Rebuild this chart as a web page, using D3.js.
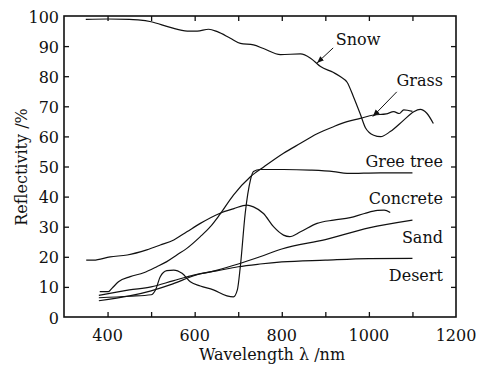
<!DOCTYPE html>
<html>
<head>
<meta charset="utf-8">
<script src="https://cdn.jsdelivr.net/npm/d3@7"></script>
<style>
  body { margin: 0; background: #fff; }
  text { font-family: "DejaVu Serif", serif; fill: #111; }
</style>
</head>
<body>
<div id="chart"></div>
<script>
// valeurs (longueur d'onde en nm, réflectivité en %)
const snowNm = [350, 400, 450, 470, 500, 544, 583, 606, 632, 652, 682, 705, 735, 758, 797, 843, 866, 889, 919, 935, 950, 965, 980, 992, 1011, 1027, 1049, 1080, 1103, 1118, 1133, 1148]
const snowR  = [98.9, 99.0, 98.9, 98.7, 98.1, 96.2, 95.0, 95.0, 95.6, 94.8, 92.6, 90.9, 90.4, 89.2, 87.2, 87.4, 86.0, 83.2, 81.2, 79.8, 78.0, 73.0, 67.5, 62.9, 60.4, 59.9, 61.6, 65.4, 68.2, 69.0, 67.7, 64.3]

const grassNm = [382, 402, 410, 425, 452, 483, 513, 536, 559, 582, 613, 636, 657, 689, 728, 760, 804, 843, 880, 920, 950, 980, 1011, 1040, 1057, 1070, 1080, 1100]
const grassR  = [8.4, 8.4, 9.5, 11.7, 13.4, 14.7, 16.7, 18.4, 20.6, 22.8, 26.7, 30.0, 33.9, 40.5, 46.6, 50.0, 54.4, 57.7, 60.8, 63.3, 64.9, 66.0, 67.1, 67.5, 68.2, 67.6, 68.8, 68.3]

const treeNm = [380, 450, 500, 510, 521, 536, 552, 571, 590, 613, 643, 674, 689, 698, 705, 716, 728, 735, 750, 804, 865, 919, 950, 1026, 1100]
const treeR  = [6.4, 6.9, 7.4, 9.0, 13.4, 15.4, 15.6, 14.5, 11.7, 10.3, 9.0, 7.0, 6.7, 9.0, 17.0, 34.4, 45.5, 48.3, 49.0, 49.0, 48.8, 48.3, 47.7, 47.9, 47.9]

const concreteNm = [351, 368, 406, 445, 490, 521, 552, 582, 613, 657, 690, 720, 735, 758, 781, 804, 818, 843, 881, 919, 957, 990, 1020, 1035, 1049]
const concreteR  = [18.9, 18.9, 20.0, 20.6, 22.3, 23.9, 25.6, 28.3, 31.1, 34.4, 36.0, 37.2, 36.6, 34.4, 30.0, 27.2, 26.7, 28.3, 31.1, 32.2, 33.0, 34.4, 35.4, 35.5, 34.7]

const sandNm = [380, 450, 500, 550, 600, 650, 700, 750, 800, 900, 1000, 1100]
const sandR  = [5.4, 7.0, 8.7, 11.0, 13.8, 15.5, 17.6, 20.0, 22.6, 25.7, 29.6, 32.2]

const desertNm = [380, 450, 500, 550, 600, 650, 700, 750, 800, 900, 1000, 1100]
const desertR  = [7.2, 9.0, 10.0, 12.0, 14.0, 15.3, 16.7, 17.6, 18.3, 18.9, 19.4, 19.5]

const xTicks = [400, 600, 800, 1000, 1200]
const yTicks = [0, 10, 20, 30, 40, 50, 60, 70, 80, 90, 100]

// noms des courbes + position de l'étiquette (nm, %)
const labels = ["Snow", "Grass", "Gree tree", "Concrete", "Sand", "Desert"]
const labelAt = [[924, 90.4], [1170, 76.8], [1170, 49.8], [1170, 37.5], [1170, 24.6], [1170, 12.0]]

const width = 479
const height = 367
const mLeft = 64, mRight = 456, mTop = 16, mBottom = 317

const svg = d3.select("#chart")
  .append("svg")
  .attr("width", width)
  .attr("height", height)

const x = d3.scaleLinear().domain([300, 1200]).range([mLeft, mRight])
const y = d3.scaleLinear().domain([0, 100]).range([mBottom, mTop])

// axes : graduations vers l'intérieur sur les quatre côtés
svg.append("g").attr("transform", "translate(0," + mBottom + ")")
  .call(d3.axisBottom(x).tickValues(d3.range(400, 1200, 100)).tickSize(-5).tickFormat(""))
svg.append("g").attr("transform", "translate(0," + mTop + ")")
  .call(d3.axisTop(x).tickValues(d3.range(400, 1200, 100)).tickSize(-5).tickFormat(""))
svg.append("g").attr("transform", "translate(" + mLeft + ",0)")
  .call(d3.axisLeft(y).tickValues(d3.range(10, 100, 10)).tickSize(-5).tickFormat(""))
svg.append("g").attr("transform", "translate(" + mRight + ",0)")
  .call(d3.axisRight(y).tickValues(d3.range(10, 100, 10)).tickSize(-5).tickFormat(""))

svg.selectAll(".domain").remove()
svg.selectAll(".tick line").attr("stroke", "#111").attr("stroke-width", 1.3)

svg.append("rect")
  .attr("x", mLeft).attr("y", mTop)
  .attr("width", mRight - mLeft).attr("height", mBottom - mTop)
  .attr("fill", "none").attr("stroke", "#111").attr("stroke-width", 1.6)

svg.selectAll("text.xt").data(xTicks).enter()
  .append("text")
  .attr("class", "xt")
  .attr("x", d => x(d))
  .attr("y", mBottom + 24)
  .attr("text-anchor", "middle")
  .attr("font-size", "16px")
  .text(d => d)

svg.selectAll("text.yt").data(yTicks).enter()
  .append("text")
  .attr("class", "yt")
  .attr("x", mLeft - 5)
  .attr("y", d => y(d) + 6.5)
  .attr("text-anchor", "end")
  .attr("font-size", "16px")
  .text(d => d)

svg.append("text")
  .attr("x", 272).attr("y", 360)
  .attr("text-anchor", "middle")
  .attr("font-size", "16px")
  .text("Wavelength λ /nm")

svg.append("text")
  .attr("transform", "translate(27,167) rotate(-90)")
  .attr("text-anchor", "middle")
  .attr("font-size", "16px")
  .text("Reflectivity /%")

// courbes
const series = [
  [snowNm, snowR], [grassNm, grassR], [treeNm, treeR],
  [concreteNm, concreteR], [sandNm, sandR], [desertNm, desertR]
]

const line = d3.line()
  .x(d => x(d[0]))
  .y(d => y(d[1]))
  .curve(d3.curveMonotoneX)

series.forEach(function(s){
  let pts = s[0].map((nm, i) => [nm, s[1][i]])
  svg.append("path")
    .datum(pts)
    .attr("d", line)
    .attr("fill", "none")
    .attr("stroke", "#111")
    .attr("stroke-width", 1.2)
})

// étiquettes
svg.selectAll("text.lab").data(labels).enter()
  .append("text")
  .attr("class", "lab")
  .attr("x", (d, i) => x(labelAt[i][0]))
  .attr("y", (d, i) => y(labelAt[i][1]))
  .attr("text-anchor", (d, i) => i == 0 ? "start" : "end")
  .attr("font-size", "16px")
  .text(d => d)

// flèches Snow et Grass
svg.append("defs").append("marker")
  .attr("id", "tete")
  .attr("viewBox", "0 0 10 10")
  .attr("refX", 10).attr("refY", 5)
  .attr("markerWidth", 7).attr("markerHeight", 7)
  .attr("markerUnits", "userSpaceOnUse")
  .attr("orient", "auto")
  .append("path")
  .attr("d", "M0,1 L10,5 L0,9 Z")
  .attr("fill", "#111")

const arrows = [[[918, 89.4], [881, 84.4]], [[1064, 74.8], [1009, 66.6]]]
arrows.forEach(function(a){
  svg.append("line")
    .attr("x1", x(a[0][0])).attr("y1", y(a[0][1]))
    .attr("x2", x(a[1][0])).attr("y2", y(a[1][1]))
    .attr("stroke", "#111").attr("stroke-width", 1)
    .attr("marker-end", "url(#tete)")
})
</script>
</body>
</html>
